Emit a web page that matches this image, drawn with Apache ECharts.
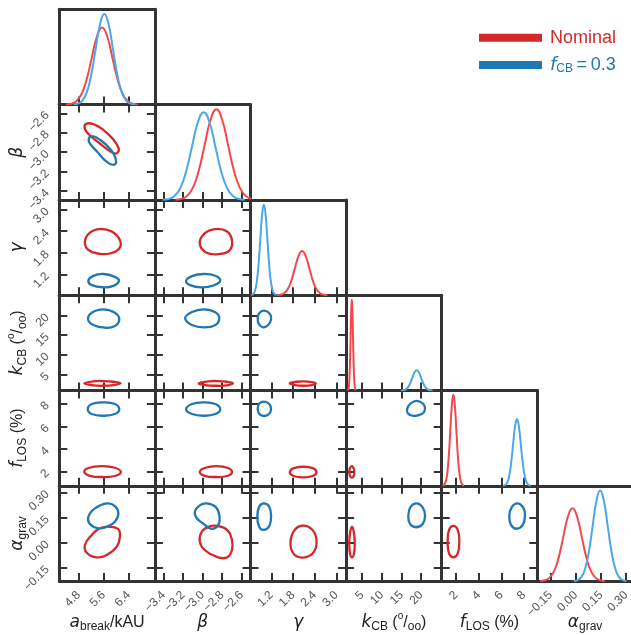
<!DOCTYPE html>
<html><head><meta charset="utf-8">
<script src="https://cdn.jsdelivr.net/npm/echarts@6/dist/echarts.min.js"></script>
<style>html,body{margin:0;padding:0;background:#fff}#c{width:631px;height:635px}</style>
</head><body><div id="c"></div>
<script>
// ---------- parameters, axis ranges, tick labels ----------
const paramKeys = ['abreak','beta','gamma','kCB','fLOS','agrav'];
const axisMin = [4.18, -3.49, 0.62, 0.9, 0.72, -0.23];
const axisMax = [7.24, -2.51, 3.27, 25.2, 9.18, 0.34];
const tickValues = [[4.8,5.6,6.4],[-3.4,-3.2,-3.0,-2.8,-2.6],[1.2,1.8,2.4,3.0],[5,10,15,20],[2,4,6,8],[-0.15,0,0.15,0.30]];
const tickDecimals = [1,1,1,0,0,2];
const paramNames = ['{m|a}{s|break}{t|/kAU}','{g|β}','{g|γ}','{m|k}{s|CB}{t| (}{p|o}{t|/}{s|oo}{t|)}','{m|f}{s|LOS}{t| (%)}','{g|α}{s|grav}'];
const seriesNames = ['Nominal','fCB'];

// ---------- 1D marginal densities (normalised height) ----------
const abreakNominalPDF = [[4.395,0.002],[4.56,0.009],[4.725,0.036],[4.89,0.110],[5.055,0.263],[5.22,0.491],[5.385,0.715],[5.55,0.81],[5.715,0.715],[5.88,0.491],[6.045,0.263],[6.21,0.110],[6.375,0.036],[6.54,0.009],[6.705,0.002]];
const abreakFcbPDF = [[4.64,0.002],[4.78,0.011],[4.92,0.042],[5.06,0.129],[5.20,0.308],[5.34,0.576],[5.48,0.838],[5.62,0.95],[5.76,0.838],[5.90,0.576],[6.04,0.308],[6.18,0.129],[6.32,0.042],[6.46,0.011],[6.60,0.002]];
const betaNominalPDF = [[-3.28,0.002],[-3.22,0.011],[-3.16,0.042],[-3.10,0.129],[-3.04,0.308],[-2.98,0.576],[-2.92,0.838],[-2.86,0.95],[-2.80,0.838],[-2.74,0.576],[-2.68,0.308],[-2.62,0.129],[-2.56,0.042],[-2.50,0.011]];
const betaFcbPDF = [[-3.41,0.002],[-3.35,0.010],[-3.29,0.040],[-3.23,0.124],[-3.17,0.299],[-3.11,0.558],[-3.05,0.812],[-2.99,0.92],[-2.93,0.812],[-2.87,0.558],[-2.81,0.299],[-2.75,0.124],[-2.69,0.040],[-2.63,0.010],[-2.57,0.002]];
const gammaNominalPDF = [[1.35,0.001],[1.45,0.005],[1.55,0.020],[1.65,0.063],[1.75,0.151],[1.85,0.282],[1.95,0.410],[2.05,0.465],[2.15,0.410],[2.25,0.282],[2.35,0.151],[2.45,0.063],[2.55,0.020],[2.65,0.005],[2.75,0.001]];
const gammaFcbPDF = [[0.64,0.002],[0.69,0.011],[0.74,0.042],[0.79,0.129],[0.84,0.308],[0.89,0.576],[0.94,0.838],[0.99,0.95],[1.04,0.838],[1.09,0.576],[1.14,0.308],[1.19,0.129],[1.24,0.042],[1.29,0.011],[1.34,0.002]];
const kCBNominalPDF = [[1.30,0.002],[1.45,0.011],[1.60,0.042],[1.75,0.129],[1.90,0.308],[2.05,0.576],[2.20,0.842],[2.35,0.955],[2.50,0.842],[2.65,0.576],[2.80,0.308],[2.95,0.129],[3.10,0.042],[3.25,0.011],[3.40,0.002]];
const kCBFcbPDF = [[14.83,0.0005],[15.40,0.002],[15.98,0.009],[16.55,0.029],[17.13,0.069],[17.70,0.129],[18.28,0.188],[18.85,0.213],[19.43,0.188],[20.00,0.129],[20.58,0.069],[21.15,0.029],[21.73,0.009],[22.30,0.002],[22.88,0.0005]];
const fLOSNominalPDF = [[0.805,0.002],[0.94,0.011],[1.075,0.042],[1.21,0.129],[1.345,0.308],[1.48,0.576],[1.615,0.842],[1.75,0.955],[1.885,0.842],[2.02,0.576],[2.155,0.308],[2.29,0.129],[2.425,0.042],[2.56,0.011],[2.695,0.002]];
const fLOSFcbPDF = [[6.155,0.0015],[6.33,0.008],[6.505,0.031],[6.68,0.095],[6.855,0.227],[7.03,0.425],[7.205,0.618],[7.38,0.70],[7.555,0.618],[7.73,0.425],[7.905,0.227],[8.08,0.095],[8.255,0.031],[8.43,0.008],[8.605,0.0015]];
const agravNominalPDF = [[-0.2125,0.002],[-0.185,0.008],[-0.1575,0.034],[-0.13,0.104],[-0.1025,0.248],[-0.075,0.464],[-0.0475,0.675],[-0.02,0.765],[0.0075,0.675],[0.035,0.464],[0.0625,0.248],[0.09,0.104],[0.1175,0.034],[0.145,0.008],[0.1725,0.002]];
const agravFcbPDF = [[-0.0125,0.002],[0.01,0.011],[0.0325,0.042],[0.055,0.129],[0.0775,0.308],[0.10,0.576],[0.1225,0.838],[0.145,0.95],[0.1675,0.838],[0.19,0.576],[0.2125,0.308],[0.235,0.129],[0.2575,0.042],[0.28,0.011],[0.3025,0.002]];

// ---------- 2D contours (x, y) ----------
const abreakBetaNominal = [[5.03,-2.71],[5.27,-2.71],[5.59,-2.77],[5.91,-2.87],[6.08,-2.96],[6.02,-3.01],[5.86,-3.00],[5.48,-2.91],[5.14,-2.82],[5.00,-2.76]];
const abreakBetaFcb = [[5.18,-2.84],[5.38,-2.85],[5.70,-2.93],[5.91,-3.01],[6.00,-3.10],[5.91,-3.13],[5.70,-3.10],[5.38,-2.99],[5.16,-2.91],[5.12,-2.87]];
const abreakGammaNominal = [[5.48,2.46],[5.86,2.39],[6.12,2.15],[6.10,1.92],[5.80,1.78],[5.48,1.77],[5.11,1.88],[5.00,2.11],[5.16,2.36]];
const abreakGammaFcb = [[5.59,1.21],[5.96,1.13],[6.09,1.02],[5.91,0.88],[5.59,0.84],[5.22,0.90],[5.11,1.02],[5.25,1.15]];
const abreakKcbNominal = [[4.98,2.73],[5.27,3.24],[5.59,3.31],[5.91,3.13],[6.14,2.73],[5.91,2.29],[5.59,2.11],[5.27,2.22]];
const abreakKcbFcb = [[5.59,21.6],[5.96,20.74],[6.10,19.05],[5.96,17.34],[5.64,16.91],[5.27,17.6],[5.10,19.05],[5.22,20.74]];
const abreakFlosNominal = [[5.54,2.47],[5.96,2.32],[6.15,1.94],[5.96,1.59],[5.54,1.50],[5.16,1.61],[4.98,1.94],[5.11,2.30]];
const abreakFlosFcb = [[5.59,8.13],[5.96,7.98],[6.10,7.51],[5.96,7.09],[5.59,6.94],[5.22,7.09],[5.09,7.51],[5.22,7.98]];
const abreakAgravNominal = [[5.80,0.095],[6.07,0.08],[6.12,0.036],[6.02,-0.024],[5.70,-0.074],[5.38,-0.088],[5.06,-0.06],[5.00,-0.014],[5.22,0.046],[5.48,0.086]];
const abreakAgravFcb = [[5.70,0.235],[5.96,0.219],[6.07,0.176],[5.96,0.125],[5.70,0.095],[5.43,0.086],[5.16,0.112],[5.11,0.155],[5.32,0.205]];
const betaGammaNominal = [[-2.87,2.46],[-2.75,2.39],[-2.70,2.15],[-2.72,1.88],[-2.82,1.77],[-2.96,1.80],[-3.03,2.06],[-2.98,2.34]];
const betaGammaFcb = [[-2.99,1.21],[-2.87,1.16],[-2.82,1.02],[-2.89,0.89],[-3.01,0.84],[-3.13,0.90],[-3.17,1.02],[-3.11,1.15]];
const betaKcbNominal = [[-3.04,2.73],[-2.94,3.24],[-2.86,3.31],[-2.75,3.13],[-2.69,2.73],[-2.75,2.22],[-2.86,2.11],[-2.96,2.22]];
const betaKcbFcb = [[-2.99,21.6],[-2.87,20.84],[-2.83,19.31],[-2.87,17.6],[-2.99,17.0],[-3.11,17.6],[-3.18,19.31],[-3.11,20.9]];
const betaFlosNominal = [[-2.86,2.47],[-2.74,2.30],[-2.70,1.94],[-2.74,1.61],[-2.86,1.50],[-2.98,1.61],[-3.03,1.94],[-2.98,2.30]];
const betaFlosFcb = [[-2.99,8.13],[-2.87,7.98],[-2.82,7.51],[-2.87,7.09],[-2.99,6.94],[-3.11,7.09],[-3.17,7.51],[-3.11,7.98]];
const betaAgravNominal = [[-2.86,0.10],[-2.75,0.076],[-2.70,0.016],[-2.70,-0.044],[-2.75,-0.088],[-2.86,-0.084],[-2.98,-0.044],[-3.03,0.006],[-3.01,0.065],[-2.94,0.095]];
const betaAgravFcb = [[-2.96,0.235],[-2.87,0.215],[-2.83,0.165],[-2.84,0.106],[-2.91,0.083],[-2.99,0.112],[-3.06,0.146],[-3.08,0.185],[-3.03,0.223]];
const gammaKcbNominal = [[1.71,2.73],[1.90,3.13],[2.08,3.24],[2.32,3.06],[2.43,2.73],[2.32,2.29],[2.08,2.11],[1.85,2.29]];
const gammaKcbFcb = [[1.00,21.25],[1.16,20.4],[1.19,19.05],[1.11,17.6],[0.97,17.0],[0.85,17.85],[0.82,19.3],[0.86,20.6]];
const gammaFlosNominal = [[2.08,2.41],[2.36,2.27],[2.45,1.92],[2.34,1.59],[2.08,1.47],[1.81,1.59],[1.71,1.92],[1.81,2.27]];
const gammaFlosFcb = [[0.99,8.19],[1.14,7.98],[1.19,7.51],[1.12,7.07],[0.97,6.92],[0.85,7.16],[0.82,7.6],[0.86,8.01]];
const gammaAgravNominal = [[2.04,0.101],[2.32,0.08],[2.45,0.016],[2.38,-0.054],[2.13,-0.088],[1.85,-0.074],[1.73,-0.014],[1.81,0.065]];
const gammaAgravFcb = [[0.99,0.235],[1.14,0.215],[1.19,0.155],[1.14,0.10],[0.99,0.076],[0.86,0.095],[0.81,0.155],[0.86,0.215]];
const kcbFlosNominal = [[2.40,2.47],[2.91,2.18],[2.98,1.83],[2.73,1.53],[2.32,1.44],[1.89,1.59],[1.71,1.94],[1.89,2.30]];
const kcbFlosFcb = [[18.85,8.25],[20.52,7.98],[20.96,7.51],[20.12,7.09],[17.98,6.92],[16.56,7.16],[16.46,7.6],[17.32,8.04]];
const kcbAgravNominal = [[2.40,0.095],[2.91,0.056],[3.09,-0.004],[2.91,-0.064],[2.40,-0.088],[1.89,-0.064],[1.71,-0.004],[1.89,0.056]];
const kcbAgravFcb = [[18.85,0.235],[20.37,0.211],[20.96,0.159],[20.37,0.112],[18.67,0.092],[17.14,0.112],[16.71,0.159],[17.32,0.215]];
const flosAgravNominal = [[1.75,0.10],[2.14,0.076],[2.28,0.006],[2.14,-0.064],[1.75,-0.088],[1.37,-0.064],[1.25,0.006],[1.37,0.076]];
const flosAgravFcb = [[7.41,0.235],[7.94,0.209],[8.09,0.159],[7.89,0.106],[7.36,0.083],[6.85,0.106],[6.70,0.159],[6.91,0.211]];

const diagPDFs = [[abreakNominalPDF,abreakFcbPDF],[betaNominalPDF,betaFcbPDF],[gammaNominalPDF,gammaFcbPDF],[kCBNominalPDF,kCBFcbPDF],[fLOSNominalPDF,fLOSFcbPDF],[agravNominalPDF,agravFcbPDF]];
// [row, col, nominal, fcb]
const contourPanels = [
  [1,0,abreakBetaNominal,abreakBetaFcb],
  [2,0,abreakGammaNominal,abreakGammaFcb],[2,1,betaGammaNominal,betaGammaFcb],
  [3,0,abreakKcbNominal,abreakKcbFcb],[3,1,betaKcbNominal,betaKcbFcb],[3,2,gammaKcbNominal,gammaKcbFcb],
  [4,0,abreakFlosNominal,abreakFlosFcb],[4,1,betaFlosNominal,betaFlosFcb],[4,2,gammaFlosNominal,gammaFlosFcb],[4,3,kcbFlosNominal,kcbFlosFcb],
  [5,0,abreakAgravNominal,abreakAgravFcb],[5,1,betaAgravNominal,betaAgravFcb],[5,2,gammaAgravNominal,gammaAgravFcb],[5,3,kcbAgravNominal,kcbAgravFcb],[5,4,flosAgravNominal,flosAgravFcb]
];

// ---------- layout & style ----------
const gx0 = 59.3, gy0 = 9.3, cellW = 95.6, cellH = 95.3;
const AX = '#333';
const contourColors = ['#d62728','#1f77b4'];
const pdfColors = ['#f4474d','#4ba7e8'];
const nameRich = {
  t:{fontSize:16,fontFamily:'Liberation Sans',color:'#222',lineHeight:22},
  m:{fontSize:17,fontFamily:'DejaVu Sans',fontStyle:'italic',color:'#222',lineHeight:22},
  g:{fontSize:17,fontFamily:'DejaVu Sans',fontStyle:'italic',color:'#222',lineHeight:22},
  s:{fontSize:12,fontFamily:'Liberation Sans',color:'#222',lineHeight:11,verticalAlign:'bottom'},
  p:{fontSize:10,fontFamily:'Liberation Sans',color:'#222',lineHeight:11,verticalAlign:'top'}
};
function fmt(v,d){ return v.toFixed(d).replace('-','\u2212'); }

const grids=[], xAxes=[], yAxes=[], series=[];
function valAxis(gi,pos,min,max,ticks,dec,showTicks,showLabels){
  return {
    type:'value', gridIndex:gi, position:pos, min:min, max:max,
    axisLine:{show:true,onZero:false,lineStyle:{color:AX,width:3}},
    axisTick:{show:showTicks,inside:true,length:8,lineStyle:{color:AX,width:2},customValues:ticks||undefined},
    axisLabel:{show:showLabels,customValues:ticks||undefined,rotate:45,margin:12,color:'#555',fontSize:12,fontFamily:'Liberation Sans',
      formatter:function(v){return fmt(v,dec);}},
    splitLine:{show:false}
  };
}
function addGrid(r,c){
  const gi = grids.length;
  grids.push({left:gx0+c*cellW, top:gy0+r*cellH, width:cellW, height:cellH, outerBoundsMode:'none', containLabel:false});
  return gi;
}
function lineSeries(gi,data,color,width,name){
  return {type:'line', name:name, xAxisIndex:2*gi, yAxisIndex:2*gi, data:data, showSymbol:false, symbol:'none',
    smooth:0.5, clip:true, silent:true, animation:false, itemStyle:{color:color}, lineStyle:{color:color,width:width}, z:3};
}
// closed, smooth contour drawn through the grid's own axes (api.coord)
function contourSeries(gi,data,color,name){
  return {type:'custom', name:name, xAxisIndex:2*gi, yAxisIndex:2*gi, data:data, silent:true, animation:false, z:3,
    itemStyle:{color:color},
    renderItem:function(params,api){
      if(params.dataIndex!==0) return null;
      const pts = data.map(function(p){ return api.coord(p); });
      return {type:'polygon', shape:{points:pts, smooth:0.45}, style:{fill:'none', stroke:color, lineWidth:2.3}};
    }};
}
function xName(ax,k){ ax.name=paramNames[k]; ax.nameLocation='middle'; ax.nameGap=30; ax.nameMoveOverlap=false; ax.nameTextStyle={rich:nameRich}; }
function yName(ax,k){ ax.name=paramNames[k]; ax.nameLocation='middle'; ax.nameGap=31; ax.nameRotate=90; ax.nameMoveOverlap=false; ax.nameTextStyle={rich:nameRich}; }

contourPanels.forEach(function(p){
  const r=p[0], c=p[1];
  const gi = addGrid(r,c);
  const bx = valAxis(gi,'bottom',axisMin[c],axisMax[c],tickValues[c],tickDecimals[c],true,r===5);
  if(r===5) xName(bx,c);
  xAxes.push(bx);
  xAxes.push(valAxis(gi,'top',axisMin[c],axisMax[c],tickValues[c],tickDecimals[c],true,false));
  const ly = valAxis(gi,'left',axisMin[r],axisMax[r],tickValues[r],tickDecimals[r],true,c===0);
  if(c===0) yName(ly,r);
  yAxes.push(ly);
  yAxes.push(valAxis(gi,'right',axisMin[r],axisMax[r],tickValues[r],tickDecimals[r],true,false));
  series.push(contourSeries(gi,p[2],contourColors[0],seriesNames[0]));
  series.push(contourSeries(gi,p[3],contourColors[1],seriesNames[1]));
});
for(let k=0;k<6;k++){
  const gi = addGrid(k,k);
  const bx = valAxis(gi,'bottom',axisMin[k],axisMax[k],tickValues[k],tickDecimals[k],true,k===5);
  if(k===5) xName(bx,k);
  xAxes.push(bx);
  xAxes.push(valAxis(gi,'top',axisMin[k],axisMax[k],null,0,false,false));
  yAxes.push(valAxis(gi,'left',0,1,null,0,false,false));
  yAxes.push(valAxis(gi,'right',0,1,null,0,false,false));
  series.push(lineSeries(gi,diagPDFs[k][0],pdfColors[0],2,seriesNames[0]));
  series.push(lineSeries(gi,diagPDFs[k][1],pdfColors[1],2,seriesNames[1]));
}

const chart = echarts.init(document.getElementById('c'), null, {renderer:'canvas'});
chart.setOption({
  backgroundColor:'#fff',
  animation:false,
  grid:grids, xAxis:xAxes, yAxis:yAxes, series:series,
  legend:{
    left:474, top:22.7, orient:'vertical', icon:'rect', itemWidth:63, itemHeight:8, itemGap:7.3, selectedMode:false,
    data:[
      {name:'Nominal', itemStyle:{color:contourColors[0]}, textStyle:{color:contourColors[0]}},
      {name:'fCB', itemStyle:{color:contourColors[1]}, textStyle:{color:contourColors[1]}}
    ],
    formatter:function(n){ return n==='Nominal' ? '{gap|}{t|Nominal}' : '{gap|}{i|f}{s|CB}{t|\u2009=\u20090.3}'; },
    textStyle:{fontSize:18,fontFamily:'Liberation Sans',lineHeight:20,
      rich:{gap:{width:3},t:{fontSize:18,fontFamily:'Liberation Sans',lineHeight:20},
        i:{fontSize:18,fontFamily:'DejaVu Sans',fontStyle:'italic',lineHeight:20},
        s:{fontSize:12,fontFamily:'Liberation Sans',lineHeight:10,verticalAlign:'bottom'}}}
  }
});
</script></body></html>
